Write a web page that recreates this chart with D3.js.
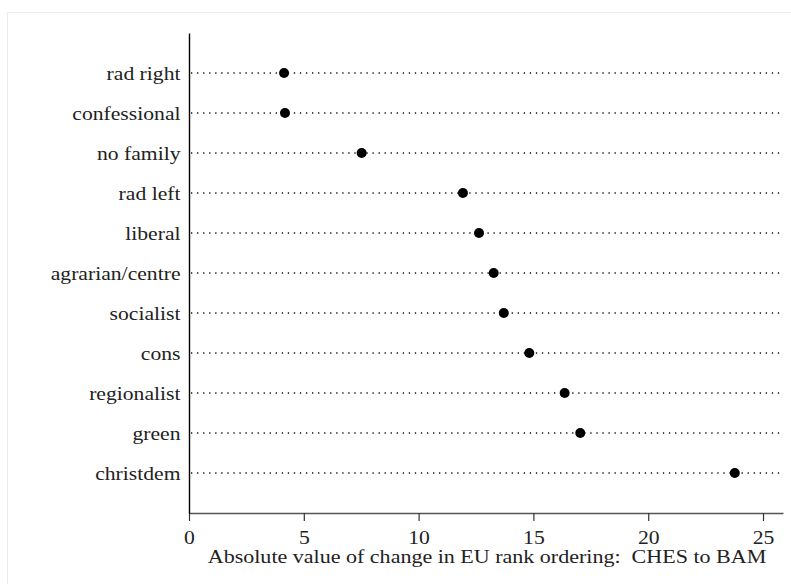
<!DOCTYPE html>
<html>
<head>
<meta charset="utf-8">
<script src="https://cdn.jsdelivr.net/npm/d3@7"></script>
<style>
  body { margin: 0; background: #fff; }
  text { font-family: "Liberation Serif", "Times New Roman", serif; fill: #222; }
</style>
</head>
<body>
<div id="chart"></div>
<script>
var families = ['rad right', 'confessional', 'no family', 'rad left', 'liberal',
  'agrarian/centre', 'socialist', 'cons', 'regionalist', 'green', 'christdem'];
var changes = [4.14, 4.18, 7.52, 11.93, 12.63, 13.27, 13.71, 14.82, 16.36, 17.04, 23.77];
var xTicks = [0, 5, 10, 15, 20, 25];
var xTitle = 'Absolute value of change in EU rank ordering:  CHES to BAM';

var width = 791,
    height = 584;

// the original type is a wide Computer Modern; stretch the serif a little
var stretch = 1.14;

var svg = d3.select('#chart').append('svg')
    .attr('width', width)
    .attr('height', height);

// light frame around the plot region
svg.append('rect')
    .attr('x', 7.5)
    .attr('y', 12.5)
    .attr('width', 800)
    .attr('height', 600)
    .style('fill', 'none')
    .style('stroke', '#e6eded');

var xScale = d3.scaleLinear()
    .domain([0, 25.87])
    .range([189, 783]);

var yScale = d3.scalePoint()
    .domain(families)
    .range([33, 513])
    .padding(1);

// dotted guide lines
svg.selectAll('line.guide').data(families)
  .enter().append('line')
    .attr('class', 'guide')
    .attr('x1', 191)
    .attr('x2', 782)
    .attr('y1', function(d) { return yScale(d); })
    .attr('y2', function(d) { return yScale(d); })
    .style('stroke', '#111')
    .style('stroke-width', 1.3)
    .style('stroke-dasharray', '1.3,4.75');

var xAxis = svg.append('g')
    .attr('transform', 'translate(0,513)')
    .call(d3.axisBottom(xScale).tickValues(xTicks).tickSize(8).tickPadding(10).tickSizeOuter(0));
xAxis.select('.domain').style('stroke', '#555').style('stroke-width', 1.6);
xAxis.selectAll('.tick line').style('stroke', '#333').style('stroke-width', 1.2);
xAxis.selectAll('.tick text')
    .style('font-family', '"Liberation Serif", serif')
    .style('font-size', '19px')
    .style('fill', '#222')
    .attr('transform', 'scale(' + stretch + ',1)');

var yAxis = svg.append('g')
    .attr('transform', 'translate(189,0)')
    .call(d3.axisLeft(yScale).tickSize(0).tickPadding(8));
yAxis.select('.domain').style('stroke', '#000').style('stroke-width', 1.4);
yAxis.selectAll('.tick text')
    .style('font-family', '"Liberation Serif", serif')
    .style('font-size', '19px')
    .style('fill', '#222')
    .attr('x', -8.5 / stretch)
    .attr('transform', 'scale(' + stretch + ',1)');

svg.append('text')
    .attr('transform', 'translate(487,563) scale(1.16,1)')
    .attr('text-anchor', 'middle')
    .style('font-size', '19px')
    .style('white-space', 'pre')
    .text(xTitle);

svg.selectAll('circle').data(changes)
  .enter().append('circle')
    .attr('cx', function(d) { return xScale(d); })
    .attr('cy', function(d, i) { return yScale(families[i]); })
    .attr('r', 5)
    .style('fill', '#000');
</script>
</body>
</html>
